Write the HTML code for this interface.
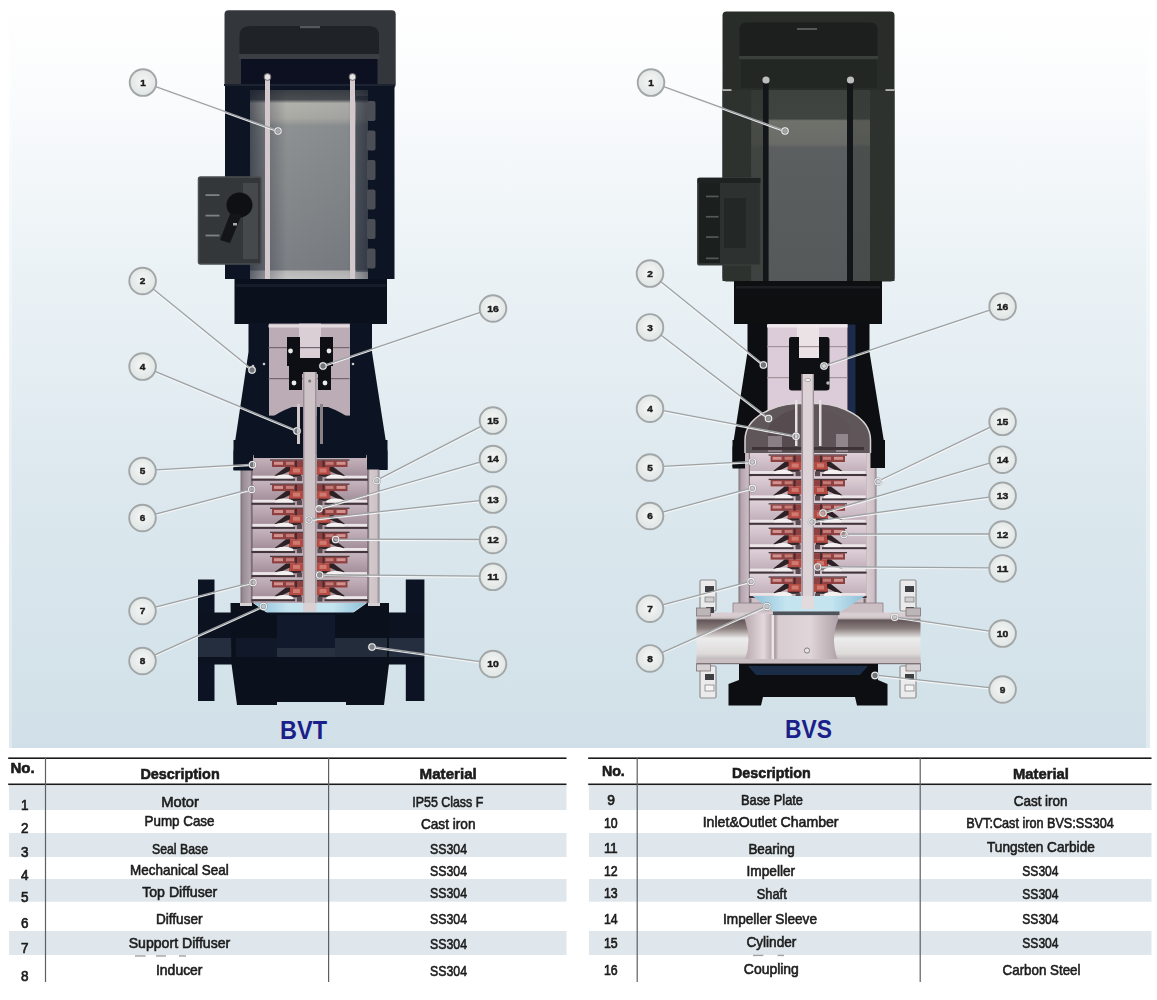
<!DOCTYPE html>
<html lang="en"><head><meta charset="utf-8"><title>BVT / BVS pump structure</title>
<style>html,body{margin:0;padding:0;background:#fff}body{width:1157px;height:1000px;overflow:hidden}svg{display:block}</style></head><body>
<svg width="1157" height="1000" viewBox="0 0 1157 1000">
<defs>
<linearGradient id="bg" x1="0" y1="0" x2="0" y2="1">
<stop offset="0" stop-color="#ffffff"/><stop offset="0.10" stop-color="#fbfcfd"/><stop offset="0.35" stop-color="#ebf2f6"/><stop offset="0.65" stop-color="#dce8ee"/><stop offset="1" stop-color="#d1e0e8"/>
</linearGradient>
<radialGradient id="cg" cx="0.5" cy="0.45" r="0.6"><stop offset="0" stop-color="#f4f6f5"/><stop offset="1" stop-color="#dde4e3"/></radialGradient>
<linearGradient id="mgT" x1="0" y1="0" x2="0" y2="1">
<stop offset="0" stop-color="#3a3f45"/><stop offset="0.05" stop-color="#4a4e52"/><stop offset="0.07" stop-color="#b2b2ad"/><stop offset="0.15" stop-color="#a9a9a4"/><stop offset="0.19" stop-color="#8e9192"/><stop offset="0.95" stop-color="#7b7f84"/><stop offset="0.96" stop-color="#b8b8b8"/><stop offset="1" stop-color="#c4c4c4"/>
</linearGradient>
<linearGradient id="mgTx" x1="0" y1="0" x2="1" y2="0">
<stop offset="0" stop-color="#0d1424" stop-opacity="0.55"/><stop offset="0.14" stop-color="#0d1424" stop-opacity="0.25"/><stop offset="0.3" stop-color="#0d1424" stop-opacity="0"/><stop offset="0.8" stop-color="#0d1424" stop-opacity="0.05"/><stop offset="1" stop-color="#0d1424" stop-opacity="0.5"/>
</linearGradient>
<linearGradient id="mgS" x1="0" y1="0" x2="0" y2="1">
<stop offset="0" stop-color="#3d423f"/><stop offset="0.15" stop-color="#3f4441"/><stop offset="0.16" stop-color="#6f716b"/><stop offset="0.28" stop-color="#6a6c68"/><stop offset="0.30" stop-color="#5b5f5f"/><stop offset="1" stop-color="#55595a"/>
</linearGradient>
<linearGradient id="pipeS" x1="0" y1="0" x2="0" y2="1">
<stop offset="0" stop-color="#d6ccce"/><stop offset="0.10" stop-color="#cfc4c6"/><stop offset="0.14" stop-color="#62565a"/><stop offset="0.3" stop-color="#8a7e7c"/><stop offset="0.5" stop-color="#ececec"/><stop offset="0.8" stop-color="#dedada"/><stop offset="1" stop-color="#a39b9d"/>
</linearGradient>
<linearGradient id="intake" x1="0" y1="0" x2="1" y2="0">
<stop offset="0" stop-color="#b9aab0"/><stop offset="0.2" stop-color="#e4d8dc"/><stop offset="0.32" stop-color="#a89aa0"/><stop offset="0.36" stop-color="#d8ccd0"/><stop offset="0.7" stop-color="#e0d5d9"/><stop offset="1" stop-color="#b0a2a8"/>
</linearGradient>
<linearGradient id="stackbg" x1="0" y1="0" x2="1" y2="0">
<stop offset="0" stop-color="#7d7078"/><stop offset="0.02" stop-color="#9b8d96"/><stop offset="0.07" stop-color="#b3a5ad"/><stop offset="0.085" stop-color="#5a4c54"/><stop offset="0.1" stop-color="#b8a8b0"/><stop offset="0.9" stop-color="#b8a8b0"/><stop offset="0.915" stop-color="#5a4c54"/><stop offset="0.93" stop-color="#d4cace"/><stop offset="0.98" stop-color="#cdc3c7"/><stop offset="1" stop-color="#8a7e84"/>
</linearGradient>
<linearGradient id="stackbgS" x1="0" y1="0" x2="1" y2="0">
<stop offset="0" stop-color="#7d7078"/><stop offset="0.02" stop-color="#b5a5ae"/><stop offset="0.07" stop-color="#cbbbc4"/><stop offset="0.085" stop-color="#6a5c64"/><stop offset="0.1" stop-color="#d0c0c8"/><stop offset="0.9" stop-color="#d0c0c8"/><stop offset="0.915" stop-color="#6a5c64"/><stop offset="0.93" stop-color="#d9cdd2"/><stop offset="0.98" stop-color="#cdbfc5"/><stop offset="1" stop-color="#8a7e84"/>
</linearGradient>
<linearGradient id="blue" x1="0" y1="0" x2="1" y2="0">
<stop offset="0" stop-color="#8fc0d8"/><stop offset="0.3" stop-color="#c4e4f0"/><stop offset="0.7" stop-color="#c4e4f0"/><stop offset="1" stop-color="#8fc0d8"/>
</linearGradient>
<linearGradient id="chT" x1="0" y1="0" x2="0" y2="1"><stop offset="0" stop-color="#c6b4bd"/><stop offset="0.75" stop-color="#a5919c"/><stop offset="1" stop-color="#b3a0a9"/></linearGradient>
<linearGradient id="chS" x1="0" y1="0" x2="0" y2="1"><stop offset="0" stop-color="#dfd1d8"/><stop offset="0.75" stop-color="#c3b1bb"/><stop offset="1" stop-color="#cdbdc5"/></linearGradient>
<filter id="soft" color-interpolation-filters="sRGB" x="-5%" y="-5%" width="110%" height="110%"><feGaussianBlur stdDeviation="0.6"/></filter>
<filter id="soft2" color-interpolation-filters="sRGB" x="-5%" y="-5%" width="110%" height="110%"><feGaussianBlur stdDeviation="0.35"/></filter>
</defs>
<rect x="0" y="0" width="1157" height="1000" fill="#ffffff"/>
<rect x="9" y="6" width="1141" height="742" fill="url(#bg)"/>
<rect x="1146" y="6" width="4" height="742" fill="#ffffff" opacity="0.35"/>
<rect x="9" y="6" width="3" height="742" fill="#ffffff" opacity="0.3"/>
<g filter="url(#soft)">
<rect x="224.5" y="10.2" width="171.2" height="78" rx="4" fill="#33363a"/>
<path d="M239.5,54 L239.5,36 Q239.5,26 250,26 L369,26 Q379,26 379,36 L379,54 Z" fill="#1f2226"/>
<rect x="300" y="26" width="20" height="2.2" fill="#55585c"/>
<rect x="239" y="54" width="140.500" height="5" fill="#3b3e42"/>
<rect x="241" y="59" width="136.500" height="27" fill="#0c1020"/>
<rect x="225" y="85" width="169.5" height="194" fill="#0d1424"/>
<rect x="250" y="90" width="122" height="189" fill="url(#mgT)"/>
<rect x="250" y="90" width="122" height="189" fill="url(#mgTx)"/>
<rect x="356" y="96" width="16" height="176" fill="#0d1424" opacity="0.38"/>
<rect x="368" y="90" width="5" height="189" fill="#0d1424"/>
<rect x="367" y="101.0" width="8.500" height="20" rx="2" fill="#4b4f55"/>
<rect x="367" y="130.5" width="8.500" height="20" rx="2" fill="#4b4f55"/>
<rect x="367" y="160.0" width="8.500" height="20" rx="2" fill="#4b4f55"/>
<rect x="367" y="189.5" width="8.500" height="20" rx="2" fill="#4b4f55"/>
<rect x="367" y="219.0" width="8.500" height="20" rx="2" fill="#4b4f55"/>
<rect x="367" y="248.5" width="8.500" height="20" rx="2" fill="#4b4f55"/>
<rect x="224" y="84" width="171" height="2" fill="#1d2330"/>
<rect x="198.5" y="177" width="62.5" height="87" rx="2" fill="#34373a" stroke="#4b4e51" stroke-width="1.5"/>
<rect x="203" y="183" width="55" height="76" fill="#33373a"/>
<rect x="243" y="183" width="15" height="76" fill="#45494b"/>
<ellipse cx="239.5" cy="205" rx="13" ry="12.5" fill="#0e1013"/>
<path d="M230,214 L242,214 L230,243 L220,240 Z" fill="#131518"/>
<rect x="233" y="223" width="4" height="2.500" fill="#a8aaac"/>
<rect x="205.5" y="194.2" width="14" height="1.8" fill="#7f8285"/>
<rect x="205.5" y="214.7" width="14" height="1.8" fill="#7f8285"/>
<rect x="205.5" y="234.6" width="14" height="1.8" fill="#7f8285"/>
<rect x="265" y="74" width="5" height="211" fill="#d3c9cd"/>
<rect x="350" y="74" width="5" height="211" fill="#d3c9cd"/>
<circle cx="267.5" cy="77" r="3.4" fill="#e6e2e2" stroke="#6a6a6e" stroke-width="1"/>
<circle cx="352.5" cy="77" r="3.4" fill="#e6e2e2" stroke="#6a6a6e" stroke-width="1"/>
<rect x="234.5" y="279" width="152.500" height="45" fill="#0a101c"/>
<rect x="236" y="284" width="150" height="3" fill="#161c2a"/>
<path d="M248.5,323 L372,323 L372,352 L387.5,452 L387.5,470 L376,470 L376,458 L244,458 L244,470 L233.500,470 L233.500,452 L248.5,352 Z" fill="#0c1322"/>
<rect x="269" y="323.6" width="81" height="92" fill="#bcacb6"/>
<rect x="299" y="323.6" width="22" height="38" fill="#dacfd5"/>
<rect x="268.5" y="347" width="81" height="1.2" fill="#74656f"/>
<rect x="268.5" y="378" width="81" height="1.2" fill="#74656f"/>
<rect x="268.5" y="324.5" width="81" height="3" fill="#e3dadd"/>
<path d="M287,337 L300,337 L300,358 L320,358 L320,337 L333,337 L333,366 L331,366 L331,390 L318,390 L318,374 L302,374 L302,390 L289,390 L289,366 L287,366 Z" fill="#0d0f14"/>
<circle cx="290.5" cy="351" r="2.4" fill="#ecebeb"/>
<circle cx="329" cy="351" r="2.4" fill="#ecebeb"/>
<circle cx="294" cy="383" r="2.4" fill="#ecebeb"/>
<circle cx="325" cy="383" r="2.4" fill="#ecebeb"/>
<circle cx="253" cy="366" r="1.3" fill="#d0d0d0"/><circle cx="264" cy="364" r="1.3" fill="#d0d0d0"/><circle cx="353" cy="364" r="1.3" fill="#d0d0d0"/>
<rect x="240.5" y="455" width="139" height="148" fill="url(#stackbg)"/>
<rect x="252.5" y="457.0" width="115.0" height="24.1" fill="url(#chT)"/><rect x="270.0" y="459.4" width="33" height="1.3" fill="#4a3a40"/><rect x="272.0" y="460.5" width="31" height="6.5" fill="#8f4040"/><rect x="274.0" y="461.8" width="9" height="3" fill="#d09390"/><rect x="286.0" y="461.8" width="8" height="3" fill="#c47a76"/><rect x="295.0" y="460.5" width="2" height="7" fill="#4a2a2c"/><rect x="289.0" y="467.0" width="14" height="8" fill="#b44a42"/><rect x="293.0" y="468.5" width="7" height="4" fill="#cf7a70"/><path d="M290.0,467.0 L286.0,467.0 L274.0,476.1 L279.0,476.1 L290.0,471.0 Z" fill="#2d2126"/><rect x="289.0" y="474.6" width="12" height="2.2" fill="#33262b"/><ellipse cx="284.0" cy="477.5" rx="9.5" ry="3" fill="#f4f0f0"/><rect x="252.5" y="475.7" width="23.5" height="2.8" fill="#ece5e7"/><rect x="251.5" y="478.7" width="43.5" height="2" fill="#42353c"/><rect x="297.0" y="476.1" width="5" height="5" fill="#5a4a50"/><rect x="316.5" y="459.4" width="33" height="1.3" fill="#4a3a40"/><rect x="316.5" y="460.5" width="31" height="6.5" fill="#8f4040"/><rect x="336.5" y="461.8" width="9" height="3" fill="#d09390"/><rect x="325.5" y="461.8" width="8" height="3" fill="#c47a76"/><rect x="322.5" y="460.5" width="2" height="7" fill="#4a2a2c"/><rect x="316.5" y="467.0" width="14" height="8" fill="#b44a42"/><rect x="319.5" y="468.5" width="7" height="4" fill="#cf7a70"/><path d="M329.5,467.0 L333.5,467.0 L345.5,476.1 L340.5,476.1 L329.5,471.0 Z" fill="#2d2126"/><rect x="318.5" y="474.6" width="12" height="2.2" fill="#33262b"/><ellipse cx="335.5" cy="477.5" rx="9.5" ry="3" fill="#f4f0f0"/><rect x="343.5" y="475.7" width="23.5" height="2.8" fill="#ece5e7"/><rect x="324.5" y="478.7" width="43.5" height="2" fill="#42353c"/><rect x="317.5" y="476.1" width="5" height="5" fill="#5a4a50"/>
<rect x="252.5" y="481.1" width="115.0" height="24.1" fill="url(#chT)"/><rect x="270.0" y="483.5" width="33" height="1.3" fill="#4a3a40"/><rect x="272.0" y="484.6" width="31" height="6.5" fill="#8f4040"/><rect x="274.0" y="485.9" width="9" height="3" fill="#d09390"/><rect x="286.0" y="485.9" width="8" height="3" fill="#c47a76"/><rect x="295.0" y="484.6" width="2" height="7" fill="#4a2a2c"/><rect x="289.0" y="491.1" width="14" height="8" fill="#b44a42"/><rect x="293.0" y="492.6" width="7" height="4" fill="#cf7a70"/><path d="M290.0,491.1 L286.0,491.1 L274.0,500.2 L279.0,500.2 L290.0,495.1 Z" fill="#2d2126"/><rect x="289.0" y="498.7" width="12" height="2.2" fill="#33262b"/><ellipse cx="284.0" cy="501.6" rx="9.5" ry="3" fill="#f4f0f0"/><rect x="252.5" y="499.8" width="23.5" height="2.8" fill="#ece5e7"/><rect x="251.5" y="502.8" width="43.5" height="2" fill="#42353c"/><rect x="297.0" y="500.2" width="5" height="5" fill="#5a4a50"/><rect x="316.5" y="483.5" width="33" height="1.3" fill="#4a3a40"/><rect x="316.5" y="484.6" width="31" height="6.5" fill="#8f4040"/><rect x="336.5" y="485.9" width="9" height="3" fill="#d09390"/><rect x="325.5" y="485.9" width="8" height="3" fill="#c47a76"/><rect x="322.5" y="484.6" width="2" height="7" fill="#4a2a2c"/><rect x="316.5" y="491.1" width="14" height="8" fill="#b44a42"/><rect x="319.5" y="492.6" width="7" height="4" fill="#cf7a70"/><path d="M329.5,491.1 L333.5,491.1 L345.5,500.2 L340.5,500.2 L329.5,495.1 Z" fill="#2d2126"/><rect x="318.5" y="498.7" width="12" height="2.2" fill="#33262b"/><ellipse cx="335.5" cy="501.6" rx="9.5" ry="3" fill="#f4f0f0"/><rect x="343.5" y="499.8" width="23.5" height="2.8" fill="#ece5e7"/><rect x="324.5" y="502.8" width="43.5" height="2" fill="#42353c"/><rect x="317.5" y="500.2" width="5" height="5" fill="#5a4a50"/>
<rect x="252.5" y="505.2" width="115.0" height="24.1" fill="url(#chT)"/><rect x="270.0" y="507.6" width="33" height="1.3" fill="#4a3a40"/><rect x="272.0" y="508.7" width="31" height="6.5" fill="#8f4040"/><rect x="274.0" y="510.0" width="9" height="3" fill="#d09390"/><rect x="286.0" y="510.0" width="8" height="3" fill="#c47a76"/><rect x="295.0" y="508.7" width="2" height="7" fill="#4a2a2c"/><rect x="289.0" y="515.2" width="14" height="8" fill="#b44a42"/><rect x="293.0" y="516.7" width="7" height="4" fill="#cf7a70"/><path d="M290.0,515.2 L286.0,515.2 L274.0,524.3 L279.0,524.3 L290.0,519.2 Z" fill="#2d2126"/><rect x="289.0" y="522.8" width="12" height="2.2" fill="#33262b"/><ellipse cx="284.0" cy="525.7" rx="9.5" ry="3" fill="#f4f0f0"/><rect x="252.5" y="523.9" width="23.5" height="2.8" fill="#ece5e7"/><rect x="251.5" y="526.9" width="43.5" height="2" fill="#42353c"/><rect x="297.0" y="524.3" width="5" height="5" fill="#5a4a50"/><rect x="316.5" y="507.6" width="33" height="1.3" fill="#4a3a40"/><rect x="316.5" y="508.7" width="31" height="6.5" fill="#8f4040"/><rect x="336.5" y="510.0" width="9" height="3" fill="#d09390"/><rect x="325.5" y="510.0" width="8" height="3" fill="#c47a76"/><rect x="322.5" y="508.7" width="2" height="7" fill="#4a2a2c"/><rect x="316.5" y="515.2" width="14" height="8" fill="#b44a42"/><rect x="319.5" y="516.7" width="7" height="4" fill="#cf7a70"/><path d="M329.5,515.2 L333.5,515.2 L345.5,524.3 L340.5,524.3 L329.5,519.2 Z" fill="#2d2126"/><rect x="318.5" y="522.8" width="12" height="2.2" fill="#33262b"/><ellipse cx="335.5" cy="525.7" rx="9.5" ry="3" fill="#f4f0f0"/><rect x="343.5" y="523.9" width="23.5" height="2.8" fill="#ece5e7"/><rect x="324.5" y="526.9" width="43.5" height="2" fill="#42353c"/><rect x="317.5" y="524.3" width="5" height="5" fill="#5a4a50"/>
<rect x="252.5" y="529.3" width="115.0" height="24.1" fill="url(#chT)"/><rect x="270.0" y="531.7" width="33" height="1.3" fill="#4a3a40"/><rect x="272.0" y="532.8" width="31" height="6.5" fill="#8f4040"/><rect x="274.0" y="534.1" width="9" height="3" fill="#d09390"/><rect x="286.0" y="534.1" width="8" height="3" fill="#c47a76"/><rect x="295.0" y="532.8" width="2" height="7" fill="#4a2a2c"/><rect x="289.0" y="539.3" width="14" height="8" fill="#b44a42"/><rect x="293.0" y="540.8" width="7" height="4" fill="#cf7a70"/><path d="M290.0,539.3 L286.0,539.3 L274.0,548.4 L279.0,548.4 L290.0,543.3 Z" fill="#2d2126"/><rect x="289.0" y="546.9" width="12" height="2.2" fill="#33262b"/><ellipse cx="284.0" cy="549.8" rx="9.5" ry="3" fill="#f4f0f0"/><rect x="252.5" y="548.0" width="23.5" height="2.8" fill="#ece5e7"/><rect x="251.5" y="551.0" width="43.5" height="2" fill="#42353c"/><rect x="297.0" y="548.4" width="5" height="5" fill="#5a4a50"/><rect x="316.5" y="531.7" width="33" height="1.3" fill="#4a3a40"/><rect x="316.5" y="532.8" width="31" height="6.5" fill="#8f4040"/><rect x="336.5" y="534.1" width="9" height="3" fill="#d09390"/><rect x="325.5" y="534.1" width="8" height="3" fill="#c47a76"/><rect x="322.5" y="532.8" width="2" height="7" fill="#4a2a2c"/><rect x="316.5" y="539.3" width="14" height="8" fill="#b44a42"/><rect x="319.5" y="540.8" width="7" height="4" fill="#cf7a70"/><path d="M329.5,539.3 L333.5,539.3 L345.5,548.4 L340.5,548.4 L329.5,543.3 Z" fill="#2d2126"/><rect x="318.5" y="546.9" width="12" height="2.2" fill="#33262b"/><ellipse cx="335.5" cy="549.8" rx="9.5" ry="3" fill="#f4f0f0"/><rect x="343.5" y="548.0" width="23.5" height="2.8" fill="#ece5e7"/><rect x="324.5" y="551.0" width="43.5" height="2" fill="#42353c"/><rect x="317.5" y="548.4" width="5" height="5" fill="#5a4a50"/>
<rect x="252.5" y="553.4" width="115.0" height="24.1" fill="url(#chT)"/><rect x="270.0" y="555.8" width="33" height="1.3" fill="#4a3a40"/><rect x="272.0" y="556.9" width="31" height="6.5" fill="#8f4040"/><rect x="274.0" y="558.2" width="9" height="3" fill="#d09390"/><rect x="286.0" y="558.2" width="8" height="3" fill="#c47a76"/><rect x="295.0" y="556.9" width="2" height="7" fill="#4a2a2c"/><rect x="289.0" y="563.4" width="14" height="8" fill="#b44a42"/><rect x="293.0" y="564.9" width="7" height="4" fill="#cf7a70"/><path d="M290.0,563.4 L286.0,563.4 L274.0,572.5 L279.0,572.5 L290.0,567.4 Z" fill="#2d2126"/><rect x="289.0" y="571.0" width="12" height="2.2" fill="#33262b"/><ellipse cx="284.0" cy="573.9" rx="9.5" ry="3" fill="#f4f0f0"/><rect x="252.5" y="572.1" width="23.5" height="2.8" fill="#ece5e7"/><rect x="251.5" y="575.1" width="43.5" height="2" fill="#42353c"/><rect x="297.0" y="572.5" width="5" height="5" fill="#5a4a50"/><rect x="316.5" y="555.8" width="33" height="1.3" fill="#4a3a40"/><rect x="316.5" y="556.9" width="31" height="6.5" fill="#8f4040"/><rect x="336.5" y="558.2" width="9" height="3" fill="#d09390"/><rect x="325.5" y="558.2" width="8" height="3" fill="#c47a76"/><rect x="322.5" y="556.9" width="2" height="7" fill="#4a2a2c"/><rect x="316.5" y="563.4" width="14" height="8" fill="#b44a42"/><rect x="319.5" y="564.9" width="7" height="4" fill="#cf7a70"/><path d="M329.5,563.4 L333.5,563.4 L345.5,572.5 L340.5,572.5 L329.5,567.4 Z" fill="#2d2126"/><rect x="318.5" y="571.0" width="12" height="2.2" fill="#33262b"/><ellipse cx="335.5" cy="573.9" rx="9.5" ry="3" fill="#f4f0f0"/><rect x="343.5" y="572.1" width="23.5" height="2.8" fill="#ece5e7"/><rect x="324.5" y="575.1" width="43.5" height="2" fill="#42353c"/><rect x="317.5" y="572.5" width="5" height="5" fill="#5a4a50"/>
<rect x="252.5" y="577.5" width="115.0" height="24.1" fill="url(#chT)"/><rect x="270.0" y="579.9" width="33" height="1.3" fill="#4a3a40"/><rect x="272.0" y="581.0" width="31" height="6.5" fill="#8f4040"/><rect x="274.0" y="582.3" width="9" height="3" fill="#d09390"/><rect x="286.0" y="582.3" width="8" height="3" fill="#c47a76"/><rect x="295.0" y="581.0" width="2" height="7" fill="#4a2a2c"/><rect x="289.0" y="587.5" width="14" height="8" fill="#b44a42"/><rect x="293.0" y="589.0" width="7" height="4" fill="#cf7a70"/><path d="M290.0,587.5 L286.0,587.5 L274.0,596.6 L279.0,596.6 L290.0,591.5 Z" fill="#2d2126"/><rect x="289.0" y="595.1" width="12" height="2.2" fill="#33262b"/><ellipse cx="284.0" cy="598.0" rx="9.5" ry="3" fill="#f4f0f0"/><rect x="252.5" y="596.2" width="23.5" height="2.8" fill="#ece5e7"/><rect x="251.5" y="599.2" width="43.5" height="2" fill="#42353c"/><rect x="297.0" y="596.6" width="5" height="5" fill="#5a4a50"/><rect x="316.5" y="579.9" width="33" height="1.3" fill="#4a3a40"/><rect x="316.5" y="581.0" width="31" height="6.5" fill="#8f4040"/><rect x="336.5" y="582.3" width="9" height="3" fill="#d09390"/><rect x="325.5" y="582.3" width="8" height="3" fill="#c47a76"/><rect x="322.5" y="581.0" width="2" height="7" fill="#4a2a2c"/><rect x="316.5" y="587.5" width="14" height="8" fill="#b44a42"/><rect x="319.5" y="589.0" width="7" height="4" fill="#cf7a70"/><path d="M329.5,587.5 L333.5,587.5 L345.5,596.6 L340.5,596.6 L329.5,591.5 Z" fill="#2d2126"/><rect x="318.5" y="595.1" width="12" height="2.2" fill="#33262b"/><ellipse cx="335.5" cy="598.0" rx="9.5" ry="3" fill="#f4f0f0"/><rect x="343.5" y="596.2" width="23.5" height="2.8" fill="#ece5e7"/><rect x="324.5" y="599.2" width="43.5" height="2" fill="#42353c"/><rect x="317.5" y="596.6" width="5" height="5" fill="#5a4a50"/>
<rect x="233.5" y="440" width="19.5" height="30.5" fill="#0c1322"/><rect x="367" y="440" width="20.500" height="29.500" fill="#0c1322"/>
<path d="M254,458 L254,440 Q262,418 292,407 L303,407 L303,458 Z" fill="#0c1322"/>
<path d="M366,458 L366,440 Q358,418 328,407 L316.5,407 L316.5,458 Z" fill="#0c1322"/>
<rect x="297" y="404" width="3" height="40" fill="#d0c8ca"/><rect x="320" y="404" width="3" height="40" fill="#8a8286"/>
<rect x="303" y="372" width="13.5" height="240" fill="#cec3c7"/>
<rect x="303" y="372" width="1.4" height="240" fill="#9a8e94"/><rect x="315.100" y="372" width="1.4" height="240" fill="#9a8e94"/>
<circle cx="309.7" cy="381" r="1.5" fill="#777"/>
<path d="M254,603 L366,603 L350,614 L270,614 Z" fill="url(#blue)"/>
<rect x="303" y="603" width="13.5" height="9" fill="#d8d0d3"/>
<rect x="198" y="579.5" width="16.5" height="121.500" fill="#0c1322"/>
<rect x="405.8" y="579.5" width="18.6" height="121.500" fill="#0c1322"/>
<rect x="198" y="612.5" width="226" height="52" fill="#0c1220"/>
<rect x="198" y="638" width="226" height="19" fill="#252e3e"/>
<path d="M230.5,603 L253,603 L270,615 L350,615 L367,603 L389,603 L389,664 L384,705 L346,705 L346,702 L277,702 L277,705 L237,705 L231.500,664 Z" fill="#0a101c"/>
<rect x="277" y="615" width="58" height="42" fill="#111a2c"/>
<rect x="277" y="648" width="58" height="9" fill="#27313f"/>
<rect x="335" y="638" width="52" height="19" fill="#232c3b"/>
<rect x="236" y="638" width="41" height="19" fill="#10182a"/>
<rect x="240" y="603" width="12" height="3" fill="#d8d0d3"/><rect x="368" y="603" width="12" height="3" fill="#d8d0d3"/>
</g>
<text x="303.5" y="739" text-anchor="middle" font-family='"Liberation Sans", sans-serif' font-weight="bold" font-size="25.5" fill="#1b1f8a" textLength="47" lengthAdjust="spacingAndGlyphs">BVT</text>
<g filter="url(#soft)">
<rect x="722.5" y="11.5" width="172" height="270" rx="4" fill="#292d2a"/>
<path d="M739.5,57 L739.5,29 Q739.5,22.5 747,22.5 L870,22.5 Q877.5,22.5 877.5,29 L877.5,57 Z" fill="#1c1f1d"/>
<rect x="797" y="28" width="20" height="2" fill="#555955"/>
<rect x="739" y="56" width="139" height="3" fill="#3a3f3b"/>
<rect x="741" y="60" width="136" height="28" fill="#232724"/>
<rect x="722.5" y="90" width="172" height="191" fill="#2d322f"/>
<rect x="751.5" y="90" width="118.500" height="192" fill="url(#mgS)"/>
<rect x="751.5" y="90" width="14" height="192" fill="#2e332f" opacity="0.6"/>
<rect x="853" y="90" width="17" height="192" fill="#2e332f" opacity="0.35"/>
<rect x="722.5" y="89.3" width="9" height="1.5" fill="#d0d0d0"/><rect x="885.5" y="89.3" width="9" height="1.5" fill="#d0d0d0"/>
<rect x="697.7" y="178" width="62.7" height="87" rx="2" fill="#2d3130" stroke="#3c403e" stroke-width="1.2"/>
<rect x="699" y="180" width="21" height="83" fill="#1b1f1d"/>
<rect x="724" y="198" width="22" height="50" fill="#232725"/>
<rect x="697.7" y="178" width="62.7" height="5" fill="#1e2220"/>
<rect x="706" y="195.6" width="12.600" height="1.7" fill="#555955"/>
<rect x="706" y="215.9" width="12.600" height="1.7" fill="#555955"/>
<rect x="706" y="236.2" width="12.600" height="1.7" fill="#555955"/>
<rect x="706" y="257.5" width="12.600" height="1.7" fill="#555955"/>
<rect x="763" y="82" width="5.6" height="201" fill="#131618"/>
<rect x="847" y="82" width="6" height="201" fill="#131618"/>
<circle cx="766" cy="80" r="3.6" fill="#bdbdbd"/><circle cx="850.5" cy="80" r="3.6" fill="#bdbdbd"/>
<rect x="734" y="281" width="148" height="43" fill="#0d0f11"/>
<rect x="736" y="286" width="144" height="2.5" fill="#1c1f22"/>
<path d="M747.5,323 L869.5,323 L869.5,352 L885,448 L885,467 L873,467 L873,455 L742,455 L742,467 L732.500,467 L732.500,448 L747.5,352 Z" fill="#0c0e11"/>
<rect x="767.5" y="324" width="80" height="90" fill="#dccbd8"/>
<rect x="848" y="324.5" width="7.500" height="90" fill="#1b2b49"/>
<rect x="797" y="324.5" width="22" height="40" fill="#ebe2e5"/>
<rect x="767" y="346" width="80.5" height="1.2" fill="#a2949c"/>
<rect x="767" y="377" width="80.5" height="1.2" fill="#a2949c"/>
<rect x="767" y="324.5" width="80.5" height="3" fill="#efe8ea"/>
<path d="M791,337 Q789,337 789,340 L789,388 Q789,390.5 792,390.5 L803,390.500 L803,374 L813,374 L813,390.500 L826,390.500 Q829.5,390.5 829.5,388 L829.5,340 Q829.5,337 827,337 L819,337 L819,358 L799,358 L799,337 Z" fill="#0e1013"/>
<circle cx="824" cy="366" r="2.2" fill="#e8e6e6"/><circle cx="828" cy="383" r="1.8" fill="#b8b6b6"/>
<rect x="738.5" y="446" width="138" height="157" fill="url(#stackbgS)"/>
<rect x="750" y="452.0" width="116" height="24.4" fill="url(#chS)"/><rect x="768.6" y="454.4" width="33" height="1.3" fill="#4a3a40"/><rect x="770.6" y="455.5" width="31" height="6.5" fill="#8f4040"/><rect x="772.6" y="456.8" width="9" height="3" fill="#d09390"/><rect x="784.6" y="456.8" width="8" height="3" fill="#c47a76"/><rect x="793.6" y="455.5" width="2" height="7" fill="#4a2a2c"/><rect x="787.6" y="462.0" width="14" height="8" fill="#b44a42"/><rect x="791.6" y="463.5" width="7" height="4" fill="#cf7a70"/><path d="M788.6,462.0 L784.6,462.0 L772.6,471.4 L777.6,471.4 L788.6,466.0 Z" fill="#2d2126"/><rect x="787.6" y="469.6" width="12" height="2.2" fill="#33262b"/><ellipse cx="782.6" cy="472.8" rx="9.5" ry="3" fill="#f4f0f0"/><rect x="750.0" y="471.0" width="24.6" height="2.8" fill="#ece5e7"/><rect x="749.0" y="474.0" width="44.6" height="2" fill="#42353c"/><rect x="795.6" y="471.4" width="5" height="5" fill="#5a4a50"/><rect x="814.0" y="454.4" width="33" height="1.3" fill="#4a3a40"/><rect x="814.0" y="455.5" width="31" height="6.5" fill="#8f4040"/><rect x="834.0" y="456.8" width="9" height="3" fill="#d09390"/><rect x="823.0" y="456.8" width="8" height="3" fill="#c47a76"/><rect x="820.0" y="455.5" width="2" height="7" fill="#4a2a2c"/><rect x="814.0" y="462.0" width="14" height="8" fill="#b44a42"/><rect x="817.0" y="463.5" width="7" height="4" fill="#cf7a70"/><path d="M827.0,462.0 L831.0,462.0 L843.0,471.4 L838.0,471.4 L827.0,466.0 Z" fill="#2d2126"/><rect x="816.0" y="469.6" width="12" height="2.2" fill="#33262b"/><ellipse cx="833.0" cy="472.8" rx="9.5" ry="3" fill="#f4f0f0"/><rect x="841.0" y="471.0" width="24.6" height="2.8" fill="#ece5e7"/><rect x="822.0" y="474.0" width="44.6" height="2" fill="#42353c"/><rect x="815.0" y="471.4" width="5" height="5" fill="#5a4a50"/>
<rect x="750" y="476.4" width="116" height="24.4" fill="url(#chS)"/><rect x="768.6" y="478.8" width="33" height="1.3" fill="#4a3a40"/><rect x="770.6" y="479.9" width="31" height="6.5" fill="#8f4040"/><rect x="772.6" y="481.2" width="9" height="3" fill="#d09390"/><rect x="784.6" y="481.2" width="8" height="3" fill="#c47a76"/><rect x="793.6" y="479.9" width="2" height="7" fill="#4a2a2c"/><rect x="787.6" y="486.4" width="14" height="8" fill="#b44a42"/><rect x="791.6" y="487.9" width="7" height="4" fill="#cf7a70"/><path d="M788.6,486.4 L784.6,486.4 L772.6,495.8 L777.6,495.8 L788.6,490.4 Z" fill="#2d2126"/><rect x="787.6" y="494.0" width="12" height="2.2" fill="#33262b"/><ellipse cx="782.6" cy="497.2" rx="9.5" ry="3" fill="#f4f0f0"/><rect x="750.0" y="495.4" width="24.6" height="2.8" fill="#ece5e7"/><rect x="749.0" y="498.4" width="44.6" height="2" fill="#42353c"/><rect x="795.6" y="495.8" width="5" height="5" fill="#5a4a50"/><rect x="814.0" y="478.8" width="33" height="1.3" fill="#4a3a40"/><rect x="814.0" y="479.9" width="31" height="6.5" fill="#8f4040"/><rect x="834.0" y="481.2" width="9" height="3" fill="#d09390"/><rect x="823.0" y="481.2" width="8" height="3" fill="#c47a76"/><rect x="820.0" y="479.9" width="2" height="7" fill="#4a2a2c"/><rect x="814.0" y="486.4" width="14" height="8" fill="#b44a42"/><rect x="817.0" y="487.9" width="7" height="4" fill="#cf7a70"/><path d="M827.0,486.4 L831.0,486.4 L843.0,495.8 L838.0,495.8 L827.0,490.4 Z" fill="#2d2126"/><rect x="816.0" y="494.0" width="12" height="2.2" fill="#33262b"/><ellipse cx="833.0" cy="497.2" rx="9.5" ry="3" fill="#f4f0f0"/><rect x="841.0" y="495.4" width="24.6" height="2.8" fill="#ece5e7"/><rect x="822.0" y="498.4" width="44.6" height="2" fill="#42353c"/><rect x="815.0" y="495.8" width="5" height="5" fill="#5a4a50"/>
<rect x="750" y="500.8" width="116" height="24.4" fill="url(#chS)"/><rect x="768.6" y="503.2" width="33" height="1.3" fill="#4a3a40"/><rect x="770.6" y="504.3" width="31" height="6.5" fill="#8f4040"/><rect x="772.6" y="505.6" width="9" height="3" fill="#d09390"/><rect x="784.6" y="505.6" width="8" height="3" fill="#c47a76"/><rect x="793.6" y="504.3" width="2" height="7" fill="#4a2a2c"/><rect x="787.6" y="510.8" width="14" height="8" fill="#b44a42"/><rect x="791.6" y="512.3" width="7" height="4" fill="#cf7a70"/><path d="M788.6,510.8 L784.6,510.8 L772.6,520.2 L777.6,520.2 L788.6,514.8 Z" fill="#2d2126"/><rect x="787.6" y="518.4" width="12" height="2.2" fill="#33262b"/><ellipse cx="782.6" cy="521.6" rx="9.5" ry="3" fill="#f4f0f0"/><rect x="750.0" y="519.8" width="24.6" height="2.8" fill="#ece5e7"/><rect x="749.0" y="522.8" width="44.6" height="2" fill="#42353c"/><rect x="795.6" y="520.2" width="5" height="5" fill="#5a4a50"/><rect x="814.0" y="503.2" width="33" height="1.3" fill="#4a3a40"/><rect x="814.0" y="504.3" width="31" height="6.5" fill="#8f4040"/><rect x="834.0" y="505.6" width="9" height="3" fill="#d09390"/><rect x="823.0" y="505.6" width="8" height="3" fill="#c47a76"/><rect x="820.0" y="504.3" width="2" height="7" fill="#4a2a2c"/><rect x="814.0" y="510.8" width="14" height="8" fill="#b44a42"/><rect x="817.0" y="512.3" width="7" height="4" fill="#cf7a70"/><path d="M827.0,510.8 L831.0,510.8 L843.0,520.2 L838.0,520.2 L827.0,514.8 Z" fill="#2d2126"/><rect x="816.0" y="518.4" width="12" height="2.2" fill="#33262b"/><ellipse cx="833.0" cy="521.6" rx="9.5" ry="3" fill="#f4f0f0"/><rect x="841.0" y="519.8" width="24.6" height="2.8" fill="#ece5e7"/><rect x="822.0" y="522.8" width="44.6" height="2" fill="#42353c"/><rect x="815.0" y="520.2" width="5" height="5" fill="#5a4a50"/>
<rect x="750" y="525.2" width="116" height="24.4" fill="url(#chS)"/><rect x="768.6" y="527.6" width="33" height="1.3" fill="#4a3a40"/><rect x="770.6" y="528.7" width="31" height="6.5" fill="#8f4040"/><rect x="772.6" y="530.0" width="9" height="3" fill="#d09390"/><rect x="784.6" y="530.0" width="8" height="3" fill="#c47a76"/><rect x="793.6" y="528.7" width="2" height="7" fill="#4a2a2c"/><rect x="787.6" y="535.2" width="14" height="8" fill="#b44a42"/><rect x="791.6" y="536.7" width="7" height="4" fill="#cf7a70"/><path d="M788.6,535.2 L784.6,535.2 L772.6,544.6 L777.6,544.6 L788.6,539.2 Z" fill="#2d2126"/><rect x="787.6" y="542.8" width="12" height="2.2" fill="#33262b"/><ellipse cx="782.6" cy="546.0" rx="9.5" ry="3" fill="#f4f0f0"/><rect x="750.0" y="544.2" width="24.6" height="2.8" fill="#ece5e7"/><rect x="749.0" y="547.2" width="44.6" height="2" fill="#42353c"/><rect x="795.6" y="544.6" width="5" height="5" fill="#5a4a50"/><rect x="814.0" y="527.6" width="33" height="1.3" fill="#4a3a40"/><rect x="814.0" y="528.7" width="31" height="6.5" fill="#8f4040"/><rect x="834.0" y="530.0" width="9" height="3" fill="#d09390"/><rect x="823.0" y="530.0" width="8" height="3" fill="#c47a76"/><rect x="820.0" y="528.7" width="2" height="7" fill="#4a2a2c"/><rect x="814.0" y="535.2" width="14" height="8" fill="#b44a42"/><rect x="817.0" y="536.7" width="7" height="4" fill="#cf7a70"/><path d="M827.0,535.2 L831.0,535.2 L843.0,544.6 L838.0,544.6 L827.0,539.2 Z" fill="#2d2126"/><rect x="816.0" y="542.8" width="12" height="2.2" fill="#33262b"/><ellipse cx="833.0" cy="546.0" rx="9.5" ry="3" fill="#f4f0f0"/><rect x="841.0" y="544.2" width="24.6" height="2.8" fill="#ece5e7"/><rect x="822.0" y="547.2" width="44.6" height="2" fill="#42353c"/><rect x="815.0" y="544.6" width="5" height="5" fill="#5a4a50"/>
<rect x="750" y="549.6" width="116" height="24.4" fill="url(#chS)"/><rect x="768.6" y="552.0" width="33" height="1.3" fill="#4a3a40"/><rect x="770.6" y="553.1" width="31" height="6.5" fill="#8f4040"/><rect x="772.6" y="554.4" width="9" height="3" fill="#d09390"/><rect x="784.6" y="554.4" width="8" height="3" fill="#c47a76"/><rect x="793.6" y="553.1" width="2" height="7" fill="#4a2a2c"/><rect x="787.6" y="559.6" width="14" height="8" fill="#b44a42"/><rect x="791.6" y="561.1" width="7" height="4" fill="#cf7a70"/><path d="M788.6,559.6 L784.6,559.6 L772.6,569.0 L777.6,569.0 L788.6,563.6 Z" fill="#2d2126"/><rect x="787.6" y="567.2" width="12" height="2.2" fill="#33262b"/><ellipse cx="782.6" cy="570.4" rx="9.5" ry="3" fill="#f4f0f0"/><rect x="750.0" y="568.6" width="24.6" height="2.8" fill="#ece5e7"/><rect x="749.0" y="571.6" width="44.6" height="2" fill="#42353c"/><rect x="795.6" y="569.0" width="5" height="5" fill="#5a4a50"/><rect x="814.0" y="552.0" width="33" height="1.3" fill="#4a3a40"/><rect x="814.0" y="553.1" width="31" height="6.5" fill="#8f4040"/><rect x="834.0" y="554.4" width="9" height="3" fill="#d09390"/><rect x="823.0" y="554.4" width="8" height="3" fill="#c47a76"/><rect x="820.0" y="553.1" width="2" height="7" fill="#4a2a2c"/><rect x="814.0" y="559.6" width="14" height="8" fill="#b44a42"/><rect x="817.0" y="561.1" width="7" height="4" fill="#cf7a70"/><path d="M827.0,559.6 L831.0,559.6 L843.0,569.0 L838.0,569.0 L827.0,563.6 Z" fill="#2d2126"/><rect x="816.0" y="567.2" width="12" height="2.2" fill="#33262b"/><ellipse cx="833.0" cy="570.4" rx="9.5" ry="3" fill="#f4f0f0"/><rect x="841.0" y="568.6" width="24.6" height="2.8" fill="#ece5e7"/><rect x="822.0" y="571.6" width="44.6" height="2" fill="#42353c"/><rect x="815.0" y="569.0" width="5" height="5" fill="#5a4a50"/>
<rect x="750" y="574.0" width="116" height="24.4" fill="url(#chS)"/><rect x="768.6" y="576.4" width="33" height="1.3" fill="#4a3a40"/><rect x="770.6" y="577.5" width="31" height="6.5" fill="#8f4040"/><rect x="772.6" y="578.8" width="9" height="3" fill="#d09390"/><rect x="784.6" y="578.8" width="8" height="3" fill="#c47a76"/><rect x="793.6" y="577.5" width="2" height="7" fill="#4a2a2c"/><rect x="787.6" y="584.0" width="14" height="8" fill="#b44a42"/><rect x="791.6" y="585.5" width="7" height="4" fill="#cf7a70"/><path d="M788.6,584.0 L784.6,584.0 L772.6,593.4 L777.6,593.4 L788.6,588.0 Z" fill="#2d2126"/><rect x="787.6" y="591.6" width="12" height="2.2" fill="#33262b"/><ellipse cx="782.6" cy="594.8" rx="9.5" ry="3" fill="#f4f0f0"/><rect x="750.0" y="593.0" width="24.6" height="2.8" fill="#ece5e7"/><rect x="749.0" y="596.0" width="44.6" height="2" fill="#42353c"/><rect x="795.6" y="593.4" width="5" height="5" fill="#5a4a50"/><rect x="814.0" y="576.4" width="33" height="1.3" fill="#4a3a40"/><rect x="814.0" y="577.5" width="31" height="6.5" fill="#8f4040"/><rect x="834.0" y="578.8" width="9" height="3" fill="#d09390"/><rect x="823.0" y="578.8" width="8" height="3" fill="#c47a76"/><rect x="820.0" y="577.5" width="2" height="7" fill="#4a2a2c"/><rect x="814.0" y="584.0" width="14" height="8" fill="#b44a42"/><rect x="817.0" y="585.5" width="7" height="4" fill="#cf7a70"/><path d="M827.0,584.0 L831.0,584.0 L843.0,593.4 L838.0,593.4 L827.0,588.0 Z" fill="#2d2126"/><rect x="816.0" y="591.6" width="12" height="2.2" fill="#33262b"/><ellipse cx="833.0" cy="594.8" rx="9.5" ry="3" fill="#f4f0f0"/><rect x="841.0" y="593.0" width="24.6" height="2.8" fill="#ece5e7"/><rect x="822.0" y="596.0" width="44.6" height="2" fill="#42353c"/><rect x="815.0" y="593.4" width="5" height="5" fill="#5a4a50"/>
<rect x="732.5" y="440" width="12.5" height="28.500" fill="#0c0e11"/><rect x="870.5" y="440" width="14.500" height="28" fill="#0c0e11"/>
<path d="M745,453 L745,440 C745,416 775,405 795,403.500 L820,403.500 C840,405 870.5,416 870.5,440 L870.5,453 Z" fill="#5f5659"/>
<path d="M745,453 L745,440 C745,416 775,405 795,403.500 L820,403.500 C840,405 870.5,416 870.5,440 L870.5,453" fill="none" stroke="#d9d2d4" stroke-width="1.5"/>
<path d="M768,452 L768,428 Q776,414 796,409 L796,452 Z" fill="#564c50"/>
<path d="M768,452 L768,436 L782,436 L782,452 Z" fill="#8a7f84"/>
<path d="M850,452 L850,428 Q842,414 820,409 L820,452 Z" fill="#5e5458"/>
<path d="M836,452 L836,434 L848,434 L848,452 Z" fill="#91868b"/>
<rect x="752" y="447" width="112" height="3" fill="#3e3438"/>
<rect x="795" y="400" width="2.5" height="46" fill="#e6e0e2"/><rect x="819" y="400" width="2.5" height="46" fill="#e6e0e2"/>
<rect x="801.6" y="374" width="12.4" height="236" fill="#ddd3d7"/>
<rect x="801.6" y="374" width="1.3" height="236" fill="#9c9096"/><rect x="812.700" y="374" width="1.3" height="236" fill="#9c9096"/>
<ellipse cx="807.8" cy="380" rx="3" ry="1.6" fill="#f4f0f0" stroke="#888" stroke-width="0.6"/>
<path d="M733,603 L883,603 L883,614 L733,614 Z" fill="#cbbfc4" stroke="#8a7e84" stroke-width="0.8"/>
<path d="M752.5,596 L865,596 L841,611.500 L773.5,611.5 Z" fill="url(#blue)"/>
<rect x="801.6" y="596" width="12.4" height="13" fill="#e2dadd"/>
<rect x="696.5" y="613" width="224" height="51" fill="url(#pipeS)"/>
<rect x="696.5" y="612.5" width="224" height="4" fill="#d8ced2"/>
<path d="M745,614 L838,614 L838,620 Q830,640 838,660 L745,660 Q752,640 745,620 Z" fill="url(#intake)"/>
<rect x="773" y="611.500" width="66.500" height="3.6" fill="#4d535b"/>
<rect x="771.5" y="615" width="2.6" height="45" fill="#ece4e7"/>
<circle cx="807" cy="650.5" r="2.6" fill="#e8e4e4" stroke="#7a7074" stroke-width="0.9"/>
<rect x="696.5" y="659" width="224" height="5" fill="#c9bfc3"/>
<rect x="696.5" y="663" width="224" height="1.2" fill="#7d7377"/>
<rect x="700" y="580" width="16" height="31" rx="1.5" fill="#ecebeb" stroke="#8e9092" stroke-width="1.2"/>
<rect x="705" y="586" width="9" height="6" fill="#3d3f42"/>
<rect x="705" y="597" width="9" height="5" fill="#d0d0d0" stroke="#777" stroke-width="0.7"/>
<rect x="706" y="607" width="8" height="6" fill="#3d3f42"/>
<rect x="700" y="666" width="16" height="32" rx="1.5" fill="#ecebeb" stroke="#8e9092" stroke-width="1.2"/>
<rect x="705" y="674" width="9" height="6" fill="#3d3f42"/>
<rect x="705" y="685" width="9" height="6" fill="#f4f4f4" stroke="#777" stroke-width="0.7"/>
<rect x="900" y="580" width="16" height="31" rx="1.5" fill="#ecebeb" stroke="#8e9092" stroke-width="1.2"/>
<rect x="905" y="586" width="9" height="6" fill="#3d3f42"/>
<rect x="905" y="597" width="9" height="5" fill="#d0d0d0" stroke="#777" stroke-width="0.7"/>
<rect x="906" y="607" width="8" height="6" fill="#3d3f42"/>
<rect x="900" y="666" width="16" height="32" rx="1.5" fill="#ecebeb" stroke="#8e9092" stroke-width="1.2"/>
<rect x="905" y="674" width="9" height="6" fill="#3d3f42"/>
<rect x="905" y="685" width="9" height="6" fill="#f4f4f4" stroke="#777" stroke-width="0.7"/>
<rect x="696.5" y="608" width="14" height="8" fill="#bdb6b8" stroke="#7e7478" stroke-width="0.8"/>
<rect x="906" y="608" width="14.5" height="8" fill="#bdb6b8" stroke="#7e7478" stroke-width="0.8"/>
<rect x="696.5" y="664" width="14" height="7" fill="#d6d0d2" stroke="#7e7478" stroke-width="0.8"/>
<rect x="906" y="664" width="14.5" height="7" fill="#d6d0d2" stroke="#7e7478" stroke-width="0.8"/>
<path d="M739,664 L878,664 L878,680 L887.5,684 L887.5,705.5 L857,705.5 L855,697 L763,697 L761,705.5 L728.5,705.5 L728.5,684 L739,680 Z" fill="#0c0e12"/>
<path d="M748,666 L868,666 L860,675 L756,675 Z" fill="#1a2c46"/>
</g>
<text x="808.5" y="738" text-anchor="middle" font-family='"Liberation Sans", sans-serif' font-weight="bold" font-size="25.5" fill="#1b1f8a" textLength="47" lengthAdjust="spacingAndGlyphs">BVS</text>
<g filter="url(#soft2)">
<line x1="155.3" y1="87.7" x2="275.0" y2="130.6" stroke="#f6f7f7" stroke-width="1.4" stroke-opacity="0.9"/><line x1="155.7" y1="86.7" x2="275.3" y2="129.6" stroke="#9ea2a4" stroke-width="1.3"/><circle cx="278" cy="131" r="3.2" fill="#c9c9cc" fill-opacity="0.55" stroke="#6f7376" stroke-width="2.2" stroke-opacity="0.6"/><circle cx="278" cy="131" r="3.2" fill="none" stroke="#f2f2f2" stroke-width="1.1"/><circle cx="143" cy="82.6" r="13.3" fill="url(#cg)" stroke="#a2a6a7" stroke-width="1.9"/><text x="140.2" y="86.0" font-family='"Liberation Sans", sans-serif' font-weight="bold" font-size="9.6" fill="#1e1e1e" stroke="#1e1e1e" stroke-width="0.45" textLength="5.6" lengthAdjust="spacingAndGlyphs">1</text>
<line x1="152.5" y1="289.9" x2="249.3" y2="368.6" stroke="#f6f7f7" stroke-width="1.4" stroke-opacity="0.9"/><line x1="153.2" y1="289.0" x2="250.0" y2="367.8" stroke="#9ea2a4" stroke-width="1.3"/><circle cx="252" cy="370" r="3.2" fill="#c9c9cc" fill-opacity="0.55" stroke="#6f7376" stroke-width="2.2" stroke-opacity="0.6"/><circle cx="252" cy="370" r="3.2" fill="none" stroke="#f2f2f2" stroke-width="1.1"/><circle cx="142.6" cy="281" r="13.3" fill="url(#cg)" stroke="#a2a6a7" stroke-width="1.9"/><text x="139.8" y="284.4" font-family='"Liberation Sans", sans-serif' font-weight="bold" font-size="9.6" fill="#1e1e1e" stroke="#1e1e1e" stroke-width="0.45" textLength="5.6" lengthAdjust="spacingAndGlyphs">2</text>
<line x1="154.6" y1="372.3" x2="294.0" y2="430.4" stroke="#f6f7f7" stroke-width="1.4" stroke-opacity="0.9"/><line x1="155.0" y1="371.3" x2="294.4" y2="429.4" stroke="#9ea2a4" stroke-width="1.3"/><circle cx="297" cy="431" r="3.2" fill="#c9c9cc" fill-opacity="0.55" stroke="#6f7376" stroke-width="2.2" stroke-opacity="0.6"/><circle cx="297" cy="431" r="3.2" fill="none" stroke="#f2f2f2" stroke-width="1.1"/><circle cx="142.6" cy="366.6" r="13.3" fill="url(#cg)" stroke="#a2a6a7" stroke-width="1.9"/><text x="139.8" y="370.0" font-family='"Liberation Sans", sans-serif' font-weight="bold" font-size="9.6" fill="#1e1e1e" stroke="#1e1e1e" stroke-width="0.45" textLength="5.6" lengthAdjust="spacingAndGlyphs">4</text>
<line x1="155.8" y1="470.9" x2="249.5" y2="465.5" stroke="#f6f7f7" stroke-width="1.4" stroke-opacity="0.9"/><line x1="155.8" y1="469.8" x2="249.5" y2="464.4" stroke="#9ea2a4" stroke-width="1.3"/><circle cx="252.5" cy="464.7" r="3.2" fill="#c9c9cc" fill-opacity="0.55" stroke="#6f7376" stroke-width="2.2" stroke-opacity="0.6"/><circle cx="252.5" cy="464.7" r="3.2" fill="none" stroke="#f2f2f2" stroke-width="1.1"/><circle cx="142.5" cy="471" r="13.3" fill="url(#cg)" stroke="#a2a6a7" stroke-width="1.9"/><text x="139.7" y="474.4" font-family='"Liberation Sans", sans-serif' font-weight="bold" font-size="9.6" fill="#1e1e1e" stroke="#1e1e1e" stroke-width="0.45" textLength="5.6" lengthAdjust="spacingAndGlyphs">5</text>
<line x1="155.5" y1="515.3" x2="249.0" y2="490.8" stroke="#f6f7f7" stroke-width="1.4" stroke-opacity="0.9"/><line x1="155.3" y1="514.2" x2="248.7" y2="489.7" stroke="#9ea2a4" stroke-width="1.3"/><circle cx="251.7" cy="489.4" r="3.2" fill="#c9c9cc" fill-opacity="0.55" stroke="#6f7376" stroke-width="2.2" stroke-opacity="0.6"/><circle cx="251.7" cy="489.4" r="3.2" fill="none" stroke="#f2f2f2" stroke-width="1.1"/><circle cx="142.5" cy="518" r="13.3" fill="url(#cg)" stroke="#a2a6a7" stroke-width="1.9"/><text x="139.7" y="521.4" font-family='"Liberation Sans", sans-serif' font-weight="bold" font-size="9.6" fill="#1e1e1e" stroke="#1e1e1e" stroke-width="0.45" textLength="5.6" lengthAdjust="spacingAndGlyphs">6</text>
<line x1="155.5" y1="608.3" x2="250.3" y2="583.9" stroke="#f6f7f7" stroke-width="1.4" stroke-opacity="0.9"/><line x1="155.3" y1="607.2" x2="250.0" y2="582.8" stroke="#9ea2a4" stroke-width="1.3"/><circle cx="253" cy="582.5" r="3.2" fill="#c9c9cc" fill-opacity="0.55" stroke="#6f7376" stroke-width="2.2" stroke-opacity="0.6"/><circle cx="253" cy="582.5" r="3.2" fill="none" stroke="#f2f2f2" stroke-width="1.1"/><circle cx="142.5" cy="611" r="13.3" fill="url(#cg)" stroke="#a2a6a7" stroke-width="1.9"/><text x="139.7" y="614.4" font-family='"Liberation Sans", sans-serif' font-weight="bold" font-size="9.6" fill="#1e1e1e" stroke="#1e1e1e" stroke-width="0.45" textLength="5.6" lengthAdjust="spacingAndGlyphs">7</text>
<line x1="154.9" y1="656.1" x2="260.9" y2="608.2" stroke="#f6f7f7" stroke-width="1.4" stroke-opacity="0.9"/><line x1="154.4" y1="655.1" x2="260.5" y2="607.2" stroke="#9ea2a4" stroke-width="1.3"/><circle cx="263.4" cy="606.4" r="3.2" fill="#c9c9cc" fill-opacity="0.55" stroke="#6f7376" stroke-width="2.2" stroke-opacity="0.6"/><circle cx="263.4" cy="606.4" r="3.2" fill="none" stroke="#f2f2f2" stroke-width="1.1"/><circle cx="142.5" cy="661" r="13.3" fill="url(#cg)" stroke="#a2a6a7" stroke-width="1.9"/><text x="139.7" y="664.4" font-family='"Liberation Sans", sans-serif' font-weight="bold" font-size="9.6" fill="#1e1e1e" stroke="#1e1e1e" stroke-width="0.45" textLength="5.6" lengthAdjust="spacingAndGlyphs">8</text>
<line x1="480.6" y1="313.4" x2="326.1" y2="365.7" stroke="#f6f7f7" stroke-width="1.4" stroke-opacity="0.9"/><line x1="480.3" y1="312.3" x2="325.7" y2="364.6" stroke="#9ea2a4" stroke-width="1.3"/><circle cx="323" cy="366" r="3.2" fill="#c9c9cc" fill-opacity="0.55" stroke="#6f7376" stroke-width="2.2" stroke-opacity="0.6"/><circle cx="323" cy="366" r="3.2" fill="none" stroke="#f2f2f2" stroke-width="1.1"/><circle cx="493" cy="308.5" r="13.3" fill="url(#cg)" stroke="#a2a6a7" stroke-width="1.9"/><text x="487.2" y="311.9" font-family='"Liberation Sans", sans-serif' font-weight="bold" font-size="9.6" fill="#1e1e1e" stroke="#1e1e1e" stroke-width="0.45" textLength="11.6" lengthAdjust="spacingAndGlyphs">16</text>
<line x1="481.5" y1="427.3" x2="379.8" y2="479.9" stroke="#f6f7f7" stroke-width="1.4" stroke-opacity="0.9"/><line x1="481.0" y1="426.3" x2="379.3" y2="478.9" stroke="#9ea2a4" stroke-width="1.3"/><circle cx="376.8" cy="480.7" r="3.2" fill="#c9c9cc" fill-opacity="0.55" stroke="#6f7376" stroke-width="2.2" stroke-opacity="0.6"/><circle cx="376.8" cy="480.7" r="3.2" fill="none" stroke="#f2f2f2" stroke-width="1.1"/><circle cx="493" cy="420.6" r="13.3" fill="url(#cg)" stroke="#a2a6a7" stroke-width="1.9"/><text x="487.2" y="424.0" font-family='"Liberation Sans", sans-serif' font-weight="bold" font-size="9.6" fill="#1e1e1e" stroke="#1e1e1e" stroke-width="0.45" textLength="11.6" lengthAdjust="spacingAndGlyphs">15</text>
<line x1="480.4" y1="463.3" x2="322.1" y2="508.6" stroke="#f6f7f7" stroke-width="1.4" stroke-opacity="0.9"/><line x1="480.1" y1="462.2" x2="321.8" y2="507.5" stroke="#9ea2a4" stroke-width="1.3"/><circle cx="319" cy="508.8" r="3.2" fill="#c9c9cc" fill-opacity="0.55" stroke="#6f7376" stroke-width="2.2" stroke-opacity="0.6"/><circle cx="319" cy="508.8" r="3.2" fill="none" stroke="#f2f2f2" stroke-width="1.1"/><circle cx="493" cy="459" r="13.3" fill="url(#cg)" stroke="#a2a6a7" stroke-width="1.9"/><text x="487.2" y="462.4" font-family='"Liberation Sans", sans-serif' font-weight="bold" font-size="9.6" fill="#1e1e1e" stroke="#1e1e1e" stroke-width="0.45" textLength="11.6" lengthAdjust="spacingAndGlyphs">14</text>
<line x1="479.9" y1="501.7" x2="312.1" y2="520.3" stroke="#f6f7f7" stroke-width="1.4" stroke-opacity="0.9"/><line x1="479.7" y1="500.6" x2="311.9" y2="519.2" stroke="#9ea2a4" stroke-width="1.3"/><circle cx="309" cy="520" r="3.2" fill="#c9c9cc" fill-opacity="0.55" stroke="#6f7376" stroke-width="2.2" stroke-opacity="0.6"/><circle cx="309" cy="520" r="3.2" fill="none" stroke="#f2f2f2" stroke-width="1.1"/><circle cx="493" cy="499.6" r="13.3" fill="url(#cg)" stroke="#a2a6a7" stroke-width="1.9"/><text x="487.2" y="503.0" font-family='"Liberation Sans", sans-serif' font-weight="bold" font-size="9.6" fill="#1e1e1e" stroke="#1e1e1e" stroke-width="0.45" textLength="11.6" lengthAdjust="spacingAndGlyphs">13</text>
<line x1="479.7" y1="540.6" x2="338.7" y2="540.2" stroke="#f6f7f7" stroke-width="1.4" stroke-opacity="0.9"/><line x1="479.7" y1="539.5" x2="338.7" y2="539.1" stroke="#9ea2a4" stroke-width="1.3"/><circle cx="335.7" cy="539.5" r="3.2" fill="#c9c9cc" fill-opacity="0.55" stroke="#6f7376" stroke-width="2.2" stroke-opacity="0.6"/><circle cx="335.7" cy="539.5" r="3.2" fill="none" stroke="#f2f2f2" stroke-width="1.1"/><circle cx="493" cy="540" r="13.3" fill="url(#cg)" stroke="#a2a6a7" stroke-width="1.9"/><text x="487.2" y="543.4" font-family='"Liberation Sans", sans-serif' font-weight="bold" font-size="9.6" fill="#1e1e1e" stroke="#1e1e1e" stroke-width="0.45" textLength="11.6" lengthAdjust="spacingAndGlyphs">12</text>
<line x1="479.7" y1="577.3" x2="322.7" y2="575.7" stroke="#f6f7f7" stroke-width="1.4" stroke-opacity="0.9"/><line x1="479.7" y1="576.2" x2="322.7" y2="574.6" stroke="#9ea2a4" stroke-width="1.3"/><circle cx="319.7" cy="575" r="3.2" fill="#c9c9cc" fill-opacity="0.55" stroke="#6f7376" stroke-width="2.2" stroke-opacity="0.6"/><circle cx="319.7" cy="575" r="3.2" fill="none" stroke="#f2f2f2" stroke-width="1.1"/><circle cx="493" cy="576.8" r="13.3" fill="url(#cg)" stroke="#a2a6a7" stroke-width="1.9"/><text x="487.2" y="580.2" font-family='"Liberation Sans", sans-serif' font-weight="bold" font-size="9.6" fill="#1e1e1e" stroke="#1e1e1e" stroke-width="0.45" textLength="11.6" lengthAdjust="spacingAndGlyphs">11</text>
<line x1="479.7" y1="662.8" x2="374.9" y2="648.1" stroke="#f6f7f7" stroke-width="1.4" stroke-opacity="0.9"/><line x1="479.9" y1="661.7" x2="375.0" y2="647.0" stroke="#9ea2a4" stroke-width="1.3"/><circle cx="372" cy="647" r="3.2" fill="#c9c9cc" fill-opacity="0.55" stroke="#6f7376" stroke-width="2.2" stroke-opacity="0.6"/><circle cx="372" cy="647" r="3.2" fill="none" stroke="#f2f2f2" stroke-width="1.1"/><circle cx="493" cy="664" r="13.3" fill="url(#cg)" stroke="#a2a6a7" stroke-width="1.9"/><text x="487.2" y="667.4" font-family='"Liberation Sans", sans-serif' font-weight="bold" font-size="9.6" fill="#1e1e1e" stroke="#1e1e1e" stroke-width="0.45" textLength="11.6" lengthAdjust="spacingAndGlyphs">10</text>
<line x1="663.3" y1="87.7" x2="782.0" y2="130.6" stroke="#f6f7f7" stroke-width="1.4" stroke-opacity="0.9"/><line x1="663.7" y1="86.7" x2="782.3" y2="129.6" stroke="#9ea2a4" stroke-width="1.3"/><circle cx="785" cy="131" r="3.2" fill="#c9c9cc" fill-opacity="0.55" stroke="#6f7376" stroke-width="2.2" stroke-opacity="0.6"/><circle cx="785" cy="131" r="3.2" fill="none" stroke="#f2f2f2" stroke-width="1.1"/><circle cx="651" cy="82.6" r="13.3" fill="url(#cg)" stroke="#a2a6a7" stroke-width="1.9"/><text x="648.2" y="86.0" font-family='"Liberation Sans", sans-serif' font-weight="bold" font-size="9.6" fill="#1e1e1e" stroke="#1e1e1e" stroke-width="0.45" textLength="5.6" lengthAdjust="spacingAndGlyphs">1</text>
<line x1="659.9" y1="282.5" x2="760.7" y2="363.6" stroke="#f6f7f7" stroke-width="1.4" stroke-opacity="0.9"/><line x1="660.6" y1="281.6" x2="761.3" y2="362.8" stroke="#9ea2a4" stroke-width="1.3"/><circle cx="763.4" cy="365" r="3.2" fill="#c9c9cc" fill-opacity="0.55" stroke="#6f7376" stroke-width="2.2" stroke-opacity="0.6"/><circle cx="763.4" cy="365" r="3.2" fill="none" stroke="#f2f2f2" stroke-width="1.1"/><circle cx="650" cy="273.6" r="13.3" fill="url(#cg)" stroke="#a2a6a7" stroke-width="1.9"/><text x="647.2" y="277.0" font-family='"Liberation Sans", sans-serif' font-weight="bold" font-size="9.6" fill="#1e1e1e" stroke="#1e1e1e" stroke-width="0.45" textLength="5.6" lengthAdjust="spacingAndGlyphs">2</text>
<line x1="660.2" y1="336.0" x2="765.7" y2="417.1" stroke="#f6f7f7" stroke-width="1.4" stroke-opacity="0.9"/><line x1="660.8" y1="335.1" x2="766.4" y2="416.2" stroke="#9ea2a4" stroke-width="1.3"/><circle cx="768.5" cy="418.4" r="3.2" fill="#c9c9cc" fill-opacity="0.55" stroke="#6f7376" stroke-width="2.2" stroke-opacity="0.6"/><circle cx="768.5" cy="418.4" r="3.2" fill="none" stroke="#f2f2f2" stroke-width="1.1"/><circle cx="650" cy="327.4" r="13.3" fill="url(#cg)" stroke="#a2a6a7" stroke-width="1.9"/><text x="647.2" y="330.8" font-family='"Liberation Sans", sans-serif' font-weight="bold" font-size="9.6" fill="#1e1e1e" stroke="#1e1e1e" stroke-width="0.45" textLength="5.6" lengthAdjust="spacingAndGlyphs">3</text>
<line x1="662.9" y1="411.8" x2="792.9" y2="436.4" stroke="#f6f7f7" stroke-width="1.4" stroke-opacity="0.9"/><line x1="663.2" y1="410.7" x2="793.1" y2="435.3" stroke="#9ea2a4" stroke-width="1.3"/><circle cx="796" cy="436.3" r="3.2" fill="#c9c9cc" fill-opacity="0.55" stroke="#6f7376" stroke-width="2.2" stroke-opacity="0.6"/><circle cx="796" cy="436.3" r="3.2" fill="none" stroke="#f2f2f2" stroke-width="1.1"/><circle cx="650" cy="408.7" r="13.3" fill="url(#cg)" stroke="#a2a6a7" stroke-width="1.9"/><text x="647.2" y="412.1" font-family='"Liberation Sans", sans-serif' font-weight="bold" font-size="9.6" fill="#1e1e1e" stroke="#1e1e1e" stroke-width="0.45" textLength="5.6" lengthAdjust="spacingAndGlyphs">4</text>
<line x1="663.3" y1="467.5" x2="749.4" y2="462.8" stroke="#f6f7f7" stroke-width="1.4" stroke-opacity="0.9"/><line x1="663.3" y1="466.4" x2="749.4" y2="461.7" stroke="#9ea2a4" stroke-width="1.3"/><circle cx="752.4" cy="462" r="3.2" fill="#c9c9cc" fill-opacity="0.55" stroke="#6f7376" stroke-width="2.2" stroke-opacity="0.6"/><circle cx="752.4" cy="462" r="3.2" fill="none" stroke="#f2f2f2" stroke-width="1.1"/><circle cx="650" cy="467.6" r="13.3" fill="url(#cg)" stroke="#a2a6a7" stroke-width="1.9"/><text x="647.2" y="471.0" font-family='"Liberation Sans", sans-serif' font-weight="bold" font-size="9.6" fill="#1e1e1e" stroke="#1e1e1e" stroke-width="0.45" textLength="5.6" lengthAdjust="spacingAndGlyphs">5</text>
<line x1="663.0" y1="513.2" x2="749.7" y2="489.7" stroke="#f6f7f7" stroke-width="1.4" stroke-opacity="0.9"/><line x1="662.7" y1="512.1" x2="749.4" y2="488.6" stroke="#9ea2a4" stroke-width="1.3"/><circle cx="752.4" cy="488.3" r="3.2" fill="#c9c9cc" fill-opacity="0.55" stroke="#6f7376" stroke-width="2.2" stroke-opacity="0.6"/><circle cx="752.4" cy="488.3" r="3.2" fill="none" stroke="#f2f2f2" stroke-width="1.1"/><circle cx="650" cy="516" r="13.3" fill="url(#cg)" stroke="#a2a6a7" stroke-width="1.9"/><text x="647.2" y="519.4" font-family='"Liberation Sans", sans-serif' font-weight="bold" font-size="9.6" fill="#1e1e1e" stroke="#1e1e1e" stroke-width="0.45" textLength="5.6" lengthAdjust="spacingAndGlyphs">6</text>
<line x1="663.0" y1="605.9" x2="748.3" y2="583.0" stroke="#f6f7f7" stroke-width="1.4" stroke-opacity="0.9"/><line x1="662.7" y1="604.8" x2="748.0" y2="581.9" stroke="#9ea2a4" stroke-width="1.3"/><circle cx="751" cy="581.6" r="3.2" fill="#c9c9cc" fill-opacity="0.55" stroke="#6f7376" stroke-width="2.2" stroke-opacity="0.6"/><circle cx="751" cy="581.6" r="3.2" fill="none" stroke="#f2f2f2" stroke-width="1.1"/><circle cx="650" cy="608.7" r="13.3" fill="url(#cg)" stroke="#a2a6a7" stroke-width="1.9"/><text x="647.2" y="612.1" font-family='"Liberation Sans", sans-serif' font-weight="bold" font-size="9.6" fill="#1e1e1e" stroke="#1e1e1e" stroke-width="0.45" textLength="5.6" lengthAdjust="spacingAndGlyphs">7</text>
<line x1="662.4" y1="653.6" x2="764.5" y2="608.2" stroke="#f6f7f7" stroke-width="1.4" stroke-opacity="0.9"/><line x1="662.0" y1="652.6" x2="764.1" y2="607.2" stroke="#9ea2a4" stroke-width="1.3"/><circle cx="767" cy="606.4" r="3.2" fill="#c9c9cc" fill-opacity="0.55" stroke="#6f7376" stroke-width="2.2" stroke-opacity="0.6"/><circle cx="767" cy="606.4" r="3.2" fill="none" stroke="#f2f2f2" stroke-width="1.1"/><circle cx="650" cy="658.4" r="13.3" fill="url(#cg)" stroke="#a2a6a7" stroke-width="1.9"/><text x="647.2" y="661.8" font-family='"Liberation Sans", sans-serif' font-weight="bold" font-size="9.6" fill="#1e1e1e" stroke="#1e1e1e" stroke-width="0.45" textLength="5.6" lengthAdjust="spacingAndGlyphs">8</text>
<line x1="990.2" y1="311.2" x2="827.1" y2="365.7" stroke="#f6f7f7" stroke-width="1.4" stroke-opacity="0.9"/><line x1="989.8" y1="310.2" x2="826.7" y2="364.6" stroke="#9ea2a4" stroke-width="1.3"/><circle cx="824" cy="366" r="3.2" fill="#c9c9cc" fill-opacity="0.55" stroke="#6f7376" stroke-width="2.2" stroke-opacity="0.6"/><circle cx="824" cy="366" r="3.2" fill="none" stroke="#f2f2f2" stroke-width="1.1"/><circle cx="1002.6" cy="306.4" r="13.3" fill="url(#cg)" stroke="#a2a6a7" stroke-width="1.9"/><text x="996.8" y="309.8" font-family='"Liberation Sans", sans-serif' font-weight="bold" font-size="9.6" fill="#1e1e1e" stroke="#1e1e1e" stroke-width="0.45" textLength="11.6" lengthAdjust="spacingAndGlyphs">16</text>
<line x1="990.9" y1="428.1" x2="881.0" y2="481.0" stroke="#f6f7f7" stroke-width="1.4" stroke-opacity="0.9"/><line x1="990.4" y1="427.2" x2="880.5" y2="480.0" stroke="#9ea2a4" stroke-width="1.3"/><circle cx="878" cy="481.7" r="3.2" fill="#c9c9cc" fill-opacity="0.55" stroke="#6f7376" stroke-width="2.2" stroke-opacity="0.6"/><circle cx="878" cy="481.7" r="3.2" fill="none" stroke="#f2f2f2" stroke-width="1.1"/><circle cx="1002.6" cy="421.8" r="13.3" fill="url(#cg)" stroke="#a2a6a7" stroke-width="1.9"/><text x="996.8" y="425.2" font-family='"Liberation Sans", sans-serif' font-weight="bold" font-size="9.6" fill="#1e1e1e" stroke="#1e1e1e" stroke-width="0.45" textLength="11.6" lengthAdjust="spacingAndGlyphs">15</text>
<line x1="990.0" y1="464.1" x2="826.1" y2="512.8" stroke="#f6f7f7" stroke-width="1.4" stroke-opacity="0.9"/><line x1="989.7" y1="463.1" x2="825.7" y2="511.7" stroke="#9ea2a4" stroke-width="1.3"/><circle cx="823" cy="513" r="3.2" fill="#c9c9cc" fill-opacity="0.55" stroke="#6f7376" stroke-width="2.2" stroke-opacity="0.6"/><circle cx="823" cy="513" r="3.2" fill="none" stroke="#f2f2f2" stroke-width="1.1"/><circle cx="1002.6" cy="459.7" r="13.3" fill="url(#cg)" stroke="#a2a6a7" stroke-width="1.9"/><text x="996.8" y="463.1" font-family='"Liberation Sans", sans-serif' font-weight="bold" font-size="9.6" fill="#1e1e1e" stroke="#1e1e1e" stroke-width="0.45" textLength="11.6" lengthAdjust="spacingAndGlyphs">14</text>
<line x1="989.5" y1="498.3" x2="815.1" y2="522.2" stroke="#f6f7f7" stroke-width="1.4" stroke-opacity="0.9"/><line x1="989.4" y1="497.2" x2="814.9" y2="521.1" stroke="#9ea2a4" stroke-width="1.3"/><circle cx="812" cy="522" r="3.2" fill="#c9c9cc" fill-opacity="0.55" stroke="#6f7376" stroke-width="2.2" stroke-opacity="0.6"/><circle cx="812" cy="522" r="3.2" fill="none" stroke="#f2f2f2" stroke-width="1.1"/><circle cx="1002.6" cy="495.8" r="13.3" fill="url(#cg)" stroke="#a2a6a7" stroke-width="1.9"/><text x="996.8" y="499.2" font-family='"Liberation Sans", sans-serif' font-weight="bold" font-size="9.6" fill="#1e1e1e" stroke="#1e1e1e" stroke-width="0.45" textLength="11.6" lengthAdjust="spacingAndGlyphs">13</text>
<line x1="989.3" y1="535.1" x2="847.0" y2="535.1" stroke="#f6f7f7" stroke-width="1.4" stroke-opacity="0.9"/><line x1="989.3" y1="534.0" x2="847.0" y2="534.0" stroke="#9ea2a4" stroke-width="1.3"/><circle cx="844" cy="534.5" r="3.2" fill="#c9c9cc" fill-opacity="0.55" stroke="#6f7376" stroke-width="2.2" stroke-opacity="0.6"/><circle cx="844" cy="534.5" r="3.2" fill="none" stroke="#f2f2f2" stroke-width="1.1"/><circle cx="1002.6" cy="534.5" r="13.3" fill="url(#cg)" stroke="#a2a6a7" stroke-width="1.9"/><text x="996.8" y="537.9" font-family='"Liberation Sans", sans-serif' font-weight="bold" font-size="9.6" fill="#1e1e1e" stroke="#1e1e1e" stroke-width="0.45" textLength="11.6" lengthAdjust="spacingAndGlyphs">12</text>
<line x1="989.3" y1="568.9" x2="820.6" y2="567.7" stroke="#f6f7f7" stroke-width="1.4" stroke-opacity="0.9"/><line x1="989.3" y1="567.8" x2="820.6" y2="566.6" stroke="#9ea2a4" stroke-width="1.3"/><circle cx="817.6" cy="567" r="3.2" fill="#c9c9cc" fill-opacity="0.55" stroke="#6f7376" stroke-width="2.2" stroke-opacity="0.6"/><circle cx="817.6" cy="567" r="3.2" fill="none" stroke="#f2f2f2" stroke-width="1.1"/><circle cx="1002.6" cy="568.4" r="13.3" fill="url(#cg)" stroke="#a2a6a7" stroke-width="1.9"/><text x="996.8" y="571.8" font-family='"Liberation Sans", sans-serif' font-weight="bold" font-size="9.6" fill="#1e1e1e" stroke="#1e1e1e" stroke-width="0.45" textLength="11.6" lengthAdjust="spacingAndGlyphs">11</text>
<line x1="989.4" y1="632.3" x2="897.6" y2="618.4" stroke="#f6f7f7" stroke-width="1.4" stroke-opacity="0.9"/><line x1="989.5" y1="631.2" x2="897.7" y2="617.3" stroke="#9ea2a4" stroke-width="1.3"/><circle cx="894.7" cy="617.3" r="3.2" fill="#c9c9cc" fill-opacity="0.55" stroke="#6f7376" stroke-width="2.2" stroke-opacity="0.6"/><circle cx="894.7" cy="617.3" r="3.2" fill="none" stroke="#f2f2f2" stroke-width="1.1"/><circle cx="1002.6" cy="633.6" r="13.3" fill="url(#cg)" stroke="#a2a6a7" stroke-width="1.9"/><text x="996.8" y="637.0" font-family='"Liberation Sans", sans-serif' font-weight="bold" font-size="9.6" fill="#1e1e1e" stroke="#1e1e1e" stroke-width="0.45" textLength="11.6" lengthAdjust="spacingAndGlyphs">10</text>
<line x1="989.3" y1="688.7" x2="877.9" y2="676.5" stroke="#f6f7f7" stroke-width="1.4" stroke-opacity="0.9"/><line x1="989.4" y1="687.6" x2="878.0" y2="675.4" stroke="#9ea2a4" stroke-width="1.3"/><circle cx="875" cy="675.5" r="3.2" fill="#c9c9cc" fill-opacity="0.55" stroke="#6f7376" stroke-width="2.2" stroke-opacity="0.6"/><circle cx="875" cy="675.5" r="3.2" fill="none" stroke="#f2f2f2" stroke-width="1.1"/><circle cx="1002.6" cy="689.5" r="13.3" fill="url(#cg)" stroke="#a2a6a7" stroke-width="1.9"/><text x="999.8" y="692.9" font-family='"Liberation Sans", sans-serif' font-weight="bold" font-size="9.6" fill="#1e1e1e" stroke="#1e1e1e" stroke-width="0.45" textLength="5.6" lengthAdjust="spacingAndGlyphs">9</text>
</g>
<rect x="9" y="785.5" width="557.500" height="24.5" fill="#dfe7ec"/>
<rect x="589" y="785.5" width="562.500" height="24.5" fill="#dfe7ec"/>
<rect x="9" y="833" width="557.500" height="24" fill="#dfe7ec"/>
<rect x="589" y="833" width="562.500" height="24" fill="#dfe7ec"/>
<rect x="9" y="879" width="557.500" height="22.700000000000045" fill="#dfe7ec"/>
<rect x="589" y="879" width="562.500" height="22.700000000000045" fill="#dfe7ec"/>
<rect x="9" y="931" width="557.500" height="24" fill="#dfe7ec"/>
<rect x="589" y="931" width="562.500" height="24" fill="#dfe7ec"/>
<rect x="8.2" y="757.4" width="558.3" height="1.6" fill="#1a1a1a"/>
<rect x="8.2" y="783.5" width="558.3" height="1.6" fill="#1a1a1a"/>
<rect x="588.2" y="757.4" width="563.3" height="1.6" fill="#1a1a1a"/>
<rect x="588.2" y="783.5" width="563.3" height="1.6" fill="#1a1a1a"/>
<rect x="44.9" y="758" width="1.2" height="224" fill="#5c6064"/>
<rect x="328.0" y="758" width="1.2" height="224" fill="#5c6064"/>
<rect x="636.6" y="758" width="1.2" height="224" fill="#5c6064"/>
<rect x="919.6" y="758" width="1.2" height="224" fill="#5c6064"/>
<g filter="url(#soft2)">
<text x="10.4" y="773.4" font-family='"Liberation Sans", sans-serif' font-size="14.5" font-weight="bold" fill="#1c1c1c" stroke="#1c1c1c" stroke-width="0.6" textLength="24.2" lengthAdjust="spacingAndGlyphs">No.</text>
<text x="140.4" y="778.5" font-family='"Liberation Sans", sans-serif' font-size="15.5" font-weight="bold" fill="#1c1c1c" stroke="#1c1c1c" stroke-width="0.6" textLength="79.3" lengthAdjust="spacingAndGlyphs">Description</text>
<text x="419.6" y="779.0" font-family='"Liberation Sans", sans-serif' font-size="15.5" font-weight="bold" fill="#1c1c1c" stroke="#1c1c1c" stroke-width="0.6" textLength="57.2" lengthAdjust="spacingAndGlyphs">Material</text>
<text x="601.9" y="775.9" font-family='"Liberation Sans", sans-serif' font-size="14.5" font-weight="bold" fill="#1c1c1c" stroke="#1c1c1c" stroke-width="0.6" textLength="22.9" lengthAdjust="spacingAndGlyphs">No.</text>
<text x="732.0" y="777.7" font-family='"Liberation Sans", sans-serif' font-size="15.5" font-weight="bold" fill="#1c1c1c" stroke="#1c1c1c" stroke-width="0.6" textLength="78.8" lengthAdjust="spacingAndGlyphs">Description</text>
<text x="1013.0" y="779.0" font-family='"Liberation Sans", sans-serif' font-size="15.5" font-weight="bold" fill="#1c1c1c" stroke="#1c1c1c" stroke-width="0.6" textLength="55.9" lengthAdjust="spacingAndGlyphs">Material</text>
<text x="21.0" y="809.7" font-family='"Liberation Sans", sans-serif' font-size="15" fill="#1c1c1c" stroke="#1c1c1c" stroke-width="0.7" textLength="7.5" lengthAdjust="spacingAndGlyphs">1</text>
<text x="21.0" y="832.5" font-family='"Liberation Sans", sans-serif' font-size="15" fill="#1c1c1c" stroke="#1c1c1c" stroke-width="0.7" textLength="7.5" lengthAdjust="spacingAndGlyphs">2</text>
<text x="21.0" y="856.5" font-family='"Liberation Sans", sans-serif' font-size="15" fill="#1c1c1c" stroke="#1c1c1c" stroke-width="0.7" textLength="7.5" lengthAdjust="spacingAndGlyphs">3</text>
<text x="21.0" y="879.5" font-family='"Liberation Sans", sans-serif' font-size="15" fill="#1c1c1c" stroke="#1c1c1c" stroke-width="0.7" textLength="7.5" lengthAdjust="spacingAndGlyphs">4</text>
<text x="21.0" y="901.7" font-family='"Liberation Sans", sans-serif' font-size="15" fill="#1c1c1c" stroke="#1c1c1c" stroke-width="0.7" textLength="7.5" lengthAdjust="spacingAndGlyphs">5</text>
<text x="21.0" y="927.7" font-family='"Liberation Sans", sans-serif' font-size="15" fill="#1c1c1c" stroke="#1c1c1c" stroke-width="0.7" textLength="7.5" lengthAdjust="spacingAndGlyphs">6</text>
<text x="21.0" y="953.0" font-family='"Liberation Sans", sans-serif' font-size="15" fill="#1c1c1c" stroke="#1c1c1c" stroke-width="0.7" textLength="7.5" lengthAdjust="spacingAndGlyphs">7</text>
<text x="21.0" y="980.5" font-family='"Liberation Sans", sans-serif' font-size="15" fill="#1c1c1c" stroke="#1c1c1c" stroke-width="0.7" textLength="7.5" lengthAdjust="spacingAndGlyphs">8</text>
<text x="161.2" y="807.0" font-family='"Liberation Sans", sans-serif' font-size="14.5" fill="#1c1c1c" stroke="#1c1c1c" stroke-width="0.6" textLength="37.7" lengthAdjust="spacingAndGlyphs">Motor</text>
<text x="144.5" y="826.0" font-family='"Liberation Sans", sans-serif' font-size="14.5" fill="#1c1c1c" stroke="#1c1c1c" stroke-width="0.6" textLength="70.0" lengthAdjust="spacingAndGlyphs">Pump Case</text>
<text x="152.0" y="854.4" font-family='"Liberation Sans", sans-serif' font-size="14.5" fill="#1c1c1c" stroke="#1c1c1c" stroke-width="0.6" textLength="56.0" lengthAdjust="spacingAndGlyphs">Seal Base</text>
<text x="130.0" y="874.6" font-family='"Liberation Sans", sans-serif' font-size="14.5" fill="#1c1c1c" stroke="#1c1c1c" stroke-width="0.6" textLength="98.8" lengthAdjust="spacingAndGlyphs">Mechanical Seal</text>
<text x="142.2" y="897.0" font-family='"Liberation Sans", sans-serif' font-size="14.5" fill="#1c1c1c" stroke="#1c1c1c" stroke-width="0.6" textLength="75.1" lengthAdjust="spacingAndGlyphs">Top Diffuser</text>
<text x="156.0" y="924.0" font-family='"Liberation Sans", sans-serif' font-size="14.5" fill="#1c1c1c" stroke="#1c1c1c" stroke-width="0.6" textLength="46.5" lengthAdjust="spacingAndGlyphs">Diffuser</text>
<text x="128.7" y="948.0" font-family='"Liberation Sans", sans-serif' font-size="14.5" fill="#1c1c1c" stroke="#1c1c1c" stroke-width="0.6" textLength="101.6" lengthAdjust="spacingAndGlyphs">Support Diffuser</text>
<text x="156.0" y="975.0" font-family='"Liberation Sans", sans-serif' font-size="14.5" fill="#1c1c1c" stroke="#1c1c1c" stroke-width="0.6" textLength="46.5" lengthAdjust="spacingAndGlyphs">Inducer</text>
<text x="412.3" y="807.0" font-family='"Liberation Sans", sans-serif' font-size="14.5" fill="#1c1c1c" stroke="#1c1c1c" stroke-width="0.6" textLength="71.0" lengthAdjust="spacingAndGlyphs">IP55 Class F</text>
<text x="420.9" y="829.0" font-family='"Liberation Sans", sans-serif' font-size="14.5" fill="#1c1c1c" stroke="#1c1c1c" stroke-width="0.6" textLength="54.6" lengthAdjust="spacingAndGlyphs">Cast iron</text>
<text x="430.0" y="854.4" font-family='"Liberation Sans", sans-serif' font-size="14.5" fill="#1c1c1c" stroke="#1c1c1c" stroke-width="0.6" textLength="37.0" lengthAdjust="spacingAndGlyphs">SS304</text>
<text x="430.0" y="875.7" font-family='"Liberation Sans", sans-serif' font-size="14.5" fill="#1c1c1c" stroke="#1c1c1c" stroke-width="0.6" textLength="37.0" lengthAdjust="spacingAndGlyphs">SS304</text>
<text x="430.0" y="898.0" font-family='"Liberation Sans", sans-serif' font-size="14.5" fill="#1c1c1c" stroke="#1c1c1c" stroke-width="0.6" textLength="37.0" lengthAdjust="spacingAndGlyphs">SS304</text>
<text x="430.0" y="924.0" font-family='"Liberation Sans", sans-serif' font-size="14.5" fill="#1c1c1c" stroke="#1c1c1c" stroke-width="0.6" textLength="37.0" lengthAdjust="spacingAndGlyphs">SS304</text>
<text x="430.0" y="948.7" font-family='"Liberation Sans", sans-serif' font-size="14.5" fill="#1c1c1c" stroke="#1c1c1c" stroke-width="0.6" textLength="37.0" lengthAdjust="spacingAndGlyphs">SS304</text>
<text x="430.0" y="976.0" font-family='"Liberation Sans", sans-serif' font-size="14.5" fill="#1c1c1c" stroke="#1c1c1c" stroke-width="0.6" textLength="37.0" lengthAdjust="spacingAndGlyphs">SS304</text>
<text x="607.3" y="805.0" font-family='"Liberation Sans", sans-serif' font-size="15" fill="#1c1c1c" stroke="#1c1c1c" stroke-width="0.7" textLength="7.7" lengthAdjust="spacingAndGlyphs">9</text>
<text x="604.0" y="828.4" font-family='"Liberation Sans", sans-serif' font-size="15" fill="#1c1c1c" stroke="#1c1c1c" stroke-width="0.7" textLength="13.7" lengthAdjust="spacingAndGlyphs">10</text>
<text x="604.0" y="853.0" font-family='"Liberation Sans", sans-serif' font-size="15" fill="#1c1c1c" stroke="#1c1c1c" stroke-width="0.7" textLength="13.7" lengthAdjust="spacingAndGlyphs">11</text>
<text x="604.0" y="875.7" font-family='"Liberation Sans", sans-serif' font-size="15" fill="#1c1c1c" stroke="#1c1c1c" stroke-width="0.7" textLength="13.7" lengthAdjust="spacingAndGlyphs">12</text>
<text x="604.0" y="898.0" font-family='"Liberation Sans", sans-serif' font-size="15" fill="#1c1c1c" stroke="#1c1c1c" stroke-width="0.7" textLength="13.7" lengthAdjust="spacingAndGlyphs">13</text>
<text x="604.0" y="923.5" font-family='"Liberation Sans", sans-serif' font-size="15" fill="#1c1c1c" stroke="#1c1c1c" stroke-width="0.7" textLength="13.7" lengthAdjust="spacingAndGlyphs">14</text>
<text x="604.0" y="948.0" font-family='"Liberation Sans", sans-serif' font-size="15" fill="#1c1c1c" stroke="#1c1c1c" stroke-width="0.7" textLength="13.7" lengthAdjust="spacingAndGlyphs">15</text>
<text x="604.0" y="975.0" font-family='"Liberation Sans", sans-serif' font-size="15" fill="#1c1c1c" stroke="#1c1c1c" stroke-width="0.7" textLength="13.7" lengthAdjust="spacingAndGlyphs">16</text>
<text x="741.0" y="805.0" font-family='"Liberation Sans", sans-serif' font-size="14.5" fill="#1c1c1c" stroke="#1c1c1c" stroke-width="0.6" textLength="62.0" lengthAdjust="spacingAndGlyphs">Base Plate</text>
<text x="702.7" y="826.6" font-family='"Liberation Sans", sans-serif' font-size="14.5" fill="#1c1c1c" stroke="#1c1c1c" stroke-width="0.6" textLength="135.9" lengthAdjust="spacingAndGlyphs">Inlet&amp;Outlet Chamber</text>
<text x="748.4" y="854.4" font-family='"Liberation Sans", sans-serif' font-size="14.5" fill="#1c1c1c" stroke="#1c1c1c" stroke-width="0.6" textLength="46.3" lengthAdjust="spacingAndGlyphs">Bearing</text>
<text x="746.4" y="875.7" font-family='"Liberation Sans", sans-serif' font-size="14.5" fill="#1c1c1c" stroke="#1c1c1c" stroke-width="0.6" textLength="48.8" lengthAdjust="spacingAndGlyphs">Impeller</text>
<text x="756.8" y="899.0" font-family='"Liberation Sans", sans-serif' font-size="14.5" fill="#1c1c1c" stroke="#1c1c1c" stroke-width="0.6" textLength="29.9" lengthAdjust="spacingAndGlyphs">Shaft</text>
<text x="723.0" y="923.5" font-family='"Liberation Sans", sans-serif' font-size="14.5" fill="#1c1c1c" stroke="#1c1c1c" stroke-width="0.6" textLength="94.0" lengthAdjust="spacingAndGlyphs">Impeller Sleeve</text>
<text x="746.4" y="946.7" font-family='"Liberation Sans", sans-serif' font-size="14.5" fill="#1c1c1c" stroke="#1c1c1c" stroke-width="0.6" textLength="49.9" lengthAdjust="spacingAndGlyphs">Cylinder</text>
<text x="743.8" y="974.0" font-family='"Liberation Sans", sans-serif' font-size="14.5" fill="#1c1c1c" stroke="#1c1c1c" stroke-width="0.6" textLength="55.1" lengthAdjust="spacingAndGlyphs">Coupling</text>
<text x="1013.7" y="806.3" font-family='"Liberation Sans", sans-serif' font-size="14.5" fill="#1c1c1c" stroke="#1c1c1c" stroke-width="0.6" textLength="53.9" lengthAdjust="spacingAndGlyphs">Cast iron</text>
<text x="966.2" y="828.4" font-family='"Liberation Sans", sans-serif' font-size="14.5" fill="#1c1c1c" stroke="#1c1c1c" stroke-width="0.6" textLength="147.6" lengthAdjust="spacingAndGlyphs">BVT:Cast iron BVS:SS304</text>
<text x="987.0" y="852.3" font-family='"Liberation Sans", sans-serif' font-size="14.5" fill="#1c1c1c" stroke="#1c1c1c" stroke-width="0.6" textLength="107.8" lengthAdjust="spacingAndGlyphs">Tungsten Carbide</text>
<text x="1022.3" y="875.7" font-family='"Liberation Sans", sans-serif' font-size="14.5" fill="#1c1c1c" stroke="#1c1c1c" stroke-width="0.6" textLength="36.2" lengthAdjust="spacingAndGlyphs">SS304</text>
<text x="1022.3" y="898.6" font-family='"Liberation Sans", sans-serif' font-size="14.5" fill="#1c1c1c" stroke="#1c1c1c" stroke-width="0.6" textLength="36.2" lengthAdjust="spacingAndGlyphs">SS304</text>
<text x="1022.3" y="923.5" font-family='"Liberation Sans", sans-serif' font-size="14.5" fill="#1c1c1c" stroke="#1c1c1c" stroke-width="0.6" textLength="36.2" lengthAdjust="spacingAndGlyphs">SS304</text>
<text x="1022.3" y="948.0" font-family='"Liberation Sans", sans-serif' font-size="14.5" fill="#1c1c1c" stroke="#1c1c1c" stroke-width="0.6" textLength="36.2" lengthAdjust="spacingAndGlyphs">SS304</text>
<text x="1002.6" y="975.0" font-family='"Liberation Sans", sans-serif' font-size="14.5" fill="#1c1c1c" stroke="#1c1c1c" stroke-width="0.6" textLength="77.9" lengthAdjust="spacingAndGlyphs">Carbon Steel</text>
<rect x="135" y="955.3" width="10.6" height="1.3" fill="#444" opacity="0.55"/>
<rect x="156" y="955.3" width="10.0" height="1.3" fill="#444" opacity="0.55"/>
<rect x="179" y="955.3" width="7.0" height="1.3" fill="#444" opacity="0.55"/>
<rect x="753" y="954.8" width="10.3" height="1.3" fill="#444" opacity="0.5"/>
<rect x="777.6" y="954.8" width="6.4" height="1.3" fill="#444" opacity="0.5"/>
</g>
</svg></body></html>
